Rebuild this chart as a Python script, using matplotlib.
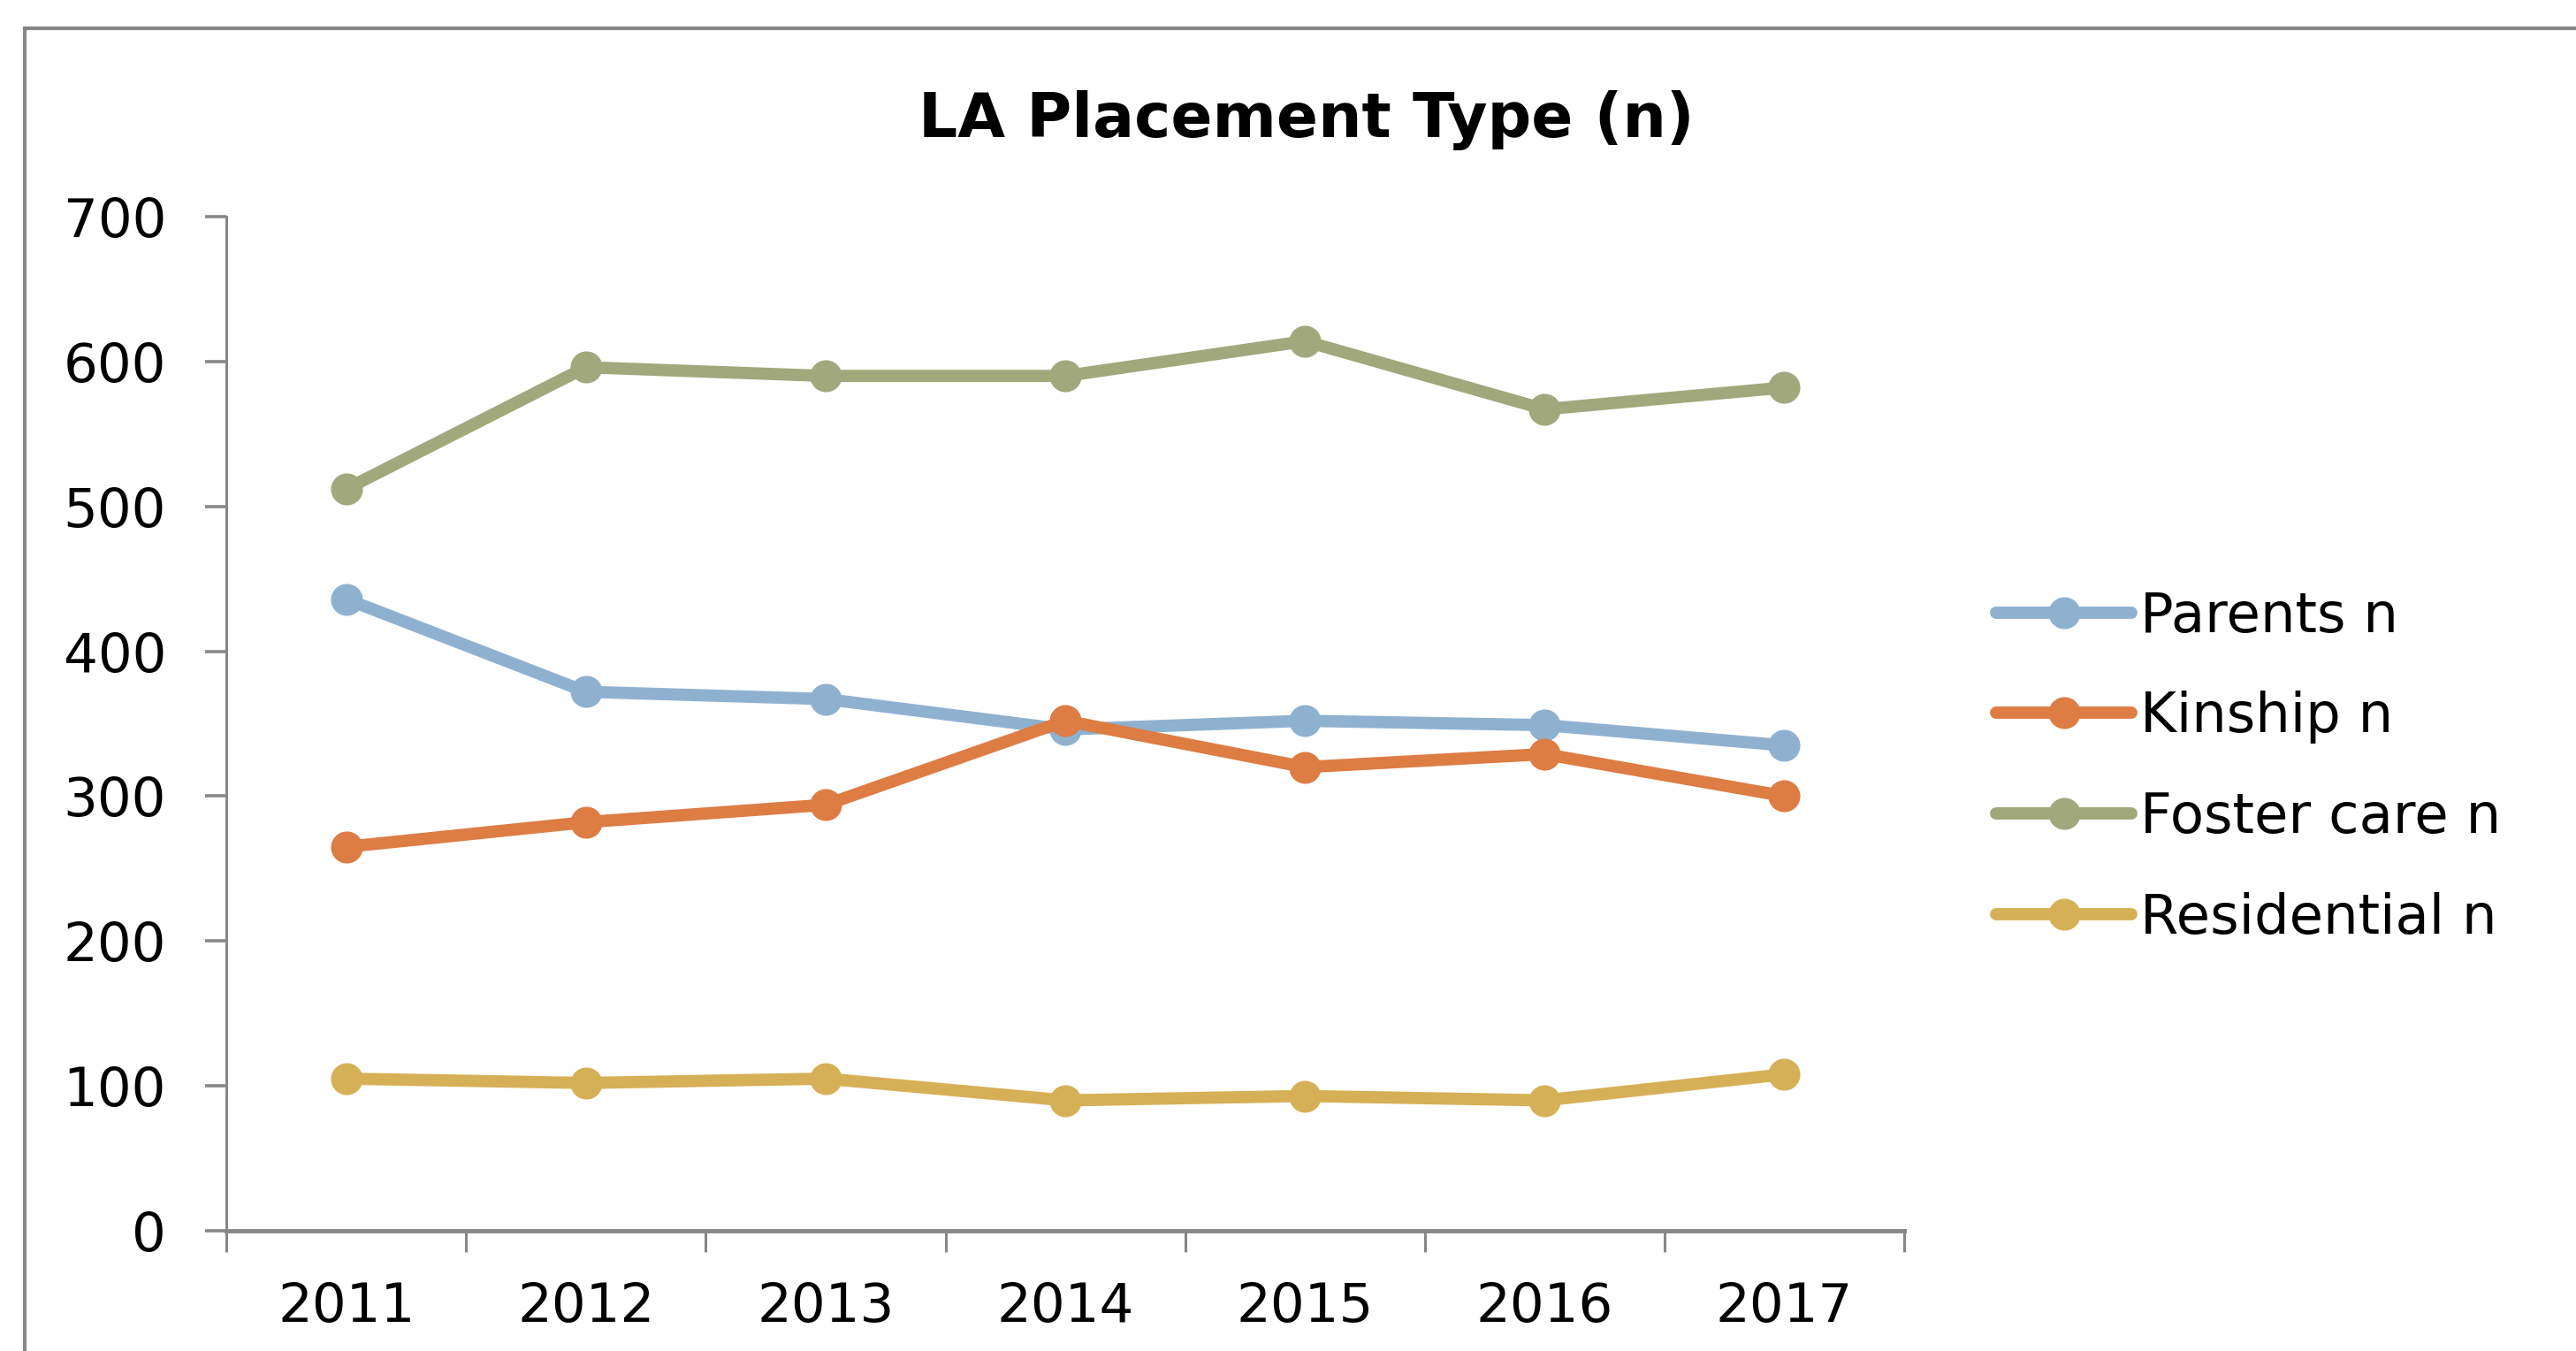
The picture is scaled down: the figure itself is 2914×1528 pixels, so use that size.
import matplotlib
matplotlib.use("Agg")
import matplotlib.pyplot as plt
from matplotlib.lines import Line2D

years = ["2011", "2012", "2013", "2014", "2015", "2016", "2017"]
parents = [436, 372, 367, 346, 352, 349, 335]
kinship = [265, 282, 294, 352, 320, 329, 300]
foster = [512, 596, 590, 590, 614, 567, 582]
residential = [105, 102, 105, 90, 93, 90, 108]

series = [
    ("Parents n", parents, "#8fb1d0"),
    ("Kinship n", kinship, "#dd7c43"),
    ("Foster care n", foster, "#a0a87c"),
    ("Residential n", residential, "#d6b057"),
]

plt.rcParams["font.family"] = ["DejaVu Sans"]
GRAY = "#878787"

fig = plt.figure(figsize=(29.14, 15.28), dpi=100)
ax = fig.add_axes([0.0879, 0.089, 0.6513, 0.7507])

x = list(range(len(years)))
for label, vals, color in series:
    ax.plot(x, vals, color=color, lw=10, marker="o", markersize=25,
            markerfacecolor=color, markeredgecolor=color,
            solid_capstyle="round", label=label)

ax.set_xlim(-0.5, len(years) - 0.5)
ax.set_ylim(0, 700)
ax.set_yticks(range(0, 701, 100))
ax.set_yticklabels([str(v) for v in range(0, 701, 100)])

# Excel style: ticks between categories, labels at centres
ax.set_xticks([i - 0.5 for i in range(len(years) + 1)])
ax.set_xticklabels([])
ax.set_xticks(x, minor=True)
ax.set_xticklabels(years, minor=True)
ax.tick_params(axis="x", which="major", length=17, width=2.2, color=GRAY,
               direction="out")
ax.tick_params(axis="x", which="minor", length=0, pad=41, labelsize=44)
ax.tick_params(axis="y", length=17, width=2.6, color=GRAY, pad=32,
               labelsize=44)

for s in ["top", "right"]:
    ax.spines[s].set_visible(False)
ax.spines["left"].set_color(GRAY)
ax.spines["left"].set_linewidth(2.2)
ax.spines["bottom"].set_color(GRAY)
ax.spines["bottom"].set_linewidth(3.5)

fig.text(0.507, 0.911, "LA Placement Type (n)", ha="center", va="center",
         fontsize=50, fontweight="bold")

ax.legend(loc="center left", bbox_to_anchor=(0.7749, 0.4318),
          bbox_transform=fig.transFigure, frameon=False, fontsize=45,
          handlelength=2.45, handletextpad=0.15, labelspacing=0.86,
          borderpad=0, borderaxespad=0)

# outer chart border (cropped on the right and bottom)
fx, fy = 28 / 2914, 1 - 32 / 1528
fig.add_artist(Line2D([fx, 1.0], [fy, fy], color=GRAY, lw=3,
                      transform=fig.transFigure))
fig.add_artist(Line2D([fx, fx], [0, fy], color=GRAY, lw=3,
                      transform=fig.transFigure))

fig.savefig("out.png", dpi=100, facecolor="white")
